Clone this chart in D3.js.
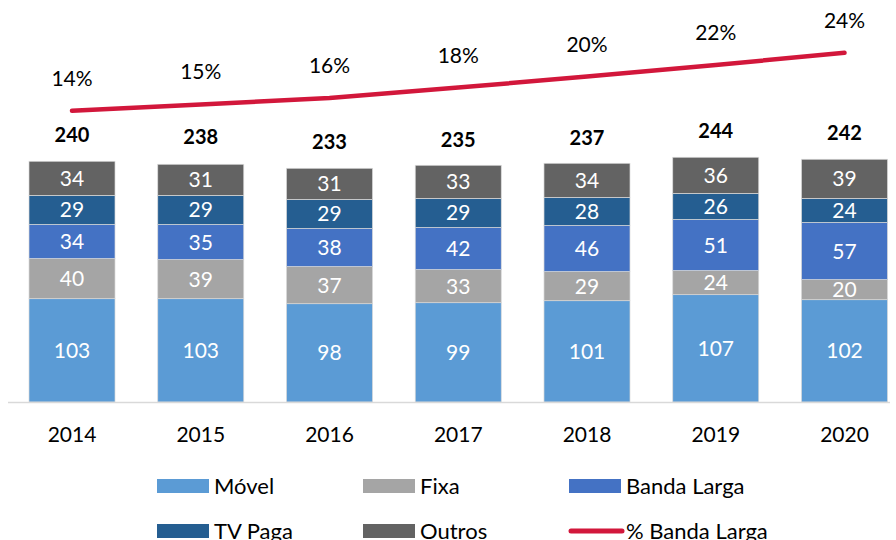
<!DOCTYPE html>
<html><head><meta charset="utf-8">
<script src="https://cdn.jsdelivr.net/npm/d3@7"></script>
<style>body{margin:0;background:#fff}svg{display:block}text{font-family:Lato,"Open Sans",sans-serif}</style>
</head><body><svg id="c" width="896" height="540"></svg>
<script>
const years = ["2014","2015","2016","2017","2018","2019","2020"];
const movel = [103,103,98,99,101,107,102];
const fixa = [40,39,37,33,29,24,20];
const bandaLarga = [34,35,38,42,46,51,57];
const tvPaga = [29,29,29,29,28,26,24];
const outros = [34,31,31,33,34,36,39];
const totals = [240,238,233,235,237,244,242];
const pctBandaLarga = [14.0,15.1,16.2,18.0,19.9,21.9,24.0];
const pctLabels = ["14%","15%","16%","18%","20%","22%","24%"];
const seriesNames = ["Móvel","Fixa","Banda Larga","TV Paga","Outros"];
const seriesColors = ["#5b9bd5","#a5a5a5","#4472c4","#255e91","#636363"];
const lineName = "% Banda Larga";
const lineColor = "#d2173b";

const svg = d3.select("#c");
const seriesVals = [movel,fixa,bandaLarga,tvPaga,outros];
const rows = years.map((y,i)=>{const r={year:y}; seriesNames.forEach((s,k)=>r[s]=seriesVals[k][i]); return r;});
const stack = d3.stack().keys(seriesNames)(rows);

const x = d3.scaleBand().domain(years).range([29,887.5]).paddingInner(0.332).paddingOuter(0);
const y = d3.scaleLinear().domain([0,250]).range([402,402-250*1.003]);
const yp = d3.scaleLinear().domain([0,30]).range([192,18]);

// bars
stack.forEach((layer,k)=>{
  const g = svg.append("g");
  g.selectAll("rect").data(layer).join("rect")
    .attr("x",d=>x(d.data.year)).attr("width",x.bandwidth())
    .attr("y",d=>y(d[1])).attr("height",d=>y(d[0])-y(d[1]))
    .attr("fill",seriesColors[k]).attr("stroke","#d9d9d9").attr("stroke-width",0.7);
  g.selectAll("text").data(layer).join("text")
    .attr("x",d=>x(d.data.year)+x.bandwidth()/2)
    .attr("y",d=>(y(d[0])+y(d[1]))/2+7.5)
    .attr("text-anchor","middle").attr("fill","#fff").attr("font-size",21)
    .text(d=>d[1]-d[0]);
});

// axis baseline
svg.append("line").attr("x1",8).attr("x2",890).attr("y1",402.5).attr("y2",402.5)
  .attr("stroke","#d9d9d9").attr("stroke-width",1.5);

// x axis labels
const xAxis = d3.axisBottom(x).tickSize(0).tickPadding(0);
const ax = svg.append("g").attr("transform","translate(0,425)").call(xAxis);
ax.select(".domain").remove();
ax.selectAll("text").attr("font-size",21).attr("fill","#000").attr("dy","0.82em").style("font-family","Lato");

// totals
svg.append("g").selectAll("text").data(years).join("text")
  .attr("x",d=>x(d)+x.bandwidth()/2).attr("y",(d,i)=>y(totals[i])-19)
  .attr("text-anchor","middle").attr("font-weight","bold").attr("font-size",20).attr("fill","#000")
  .text((d,i)=>totals[i]);

// line
const line = d3.line().x((d,i)=>x(years[i])+x.bandwidth()/2).y(d=>yp(d));
svg.append("path").datum(pctBandaLarga).attr("d",line).attr("fill","none")
  .attr("stroke",lineColor).attr("stroke-width",4.5).attr("stroke-linecap","round").attr("stroke-linejoin","round");
svg.append("g").selectAll("text").data(pctBandaLarga).join("text")
  .attr("x",(d,i)=>x(years[i])+x.bandwidth()/2).attr("y",d=>yp(d)-25)
  .attr("text-anchor","middle").attr("font-size",21).attr("fill","#000")
  .text((d,i)=>pctLabels[i]);

// legend
const legendItems = seriesNames.map((n,i)=>({name:n,color:seriesColors[i],type:"rect"}))
  .concat([{name:lineName,color:lineColor,type:"line"}]);
const colX = [157,363,569];
const rowY = [486,531];
legendItems.forEach((it,i)=>{
  const lx = colX[i%3], ly = rowY[Math.floor(i/3)];
  if(it.type==="rect"){
    svg.append("rect").attr("x",lx).attr("y",ly-7).attr("width",52).attr("height",14).attr("fill",it.color);
  } else {
    svg.append("line").attr("x1",lx+2).attr("x2",lx+53).attr("y1",ly).attr("y2",ly)
      .attr("stroke",it.color).attr("stroke-width",5).attr("stroke-linecap","round");
  }
  svg.append("text").attr("x",lx+57).attr("y",ly+8).attr("font-size",22).attr("fill","#000").text(it.name);
});
</script></body></html>
